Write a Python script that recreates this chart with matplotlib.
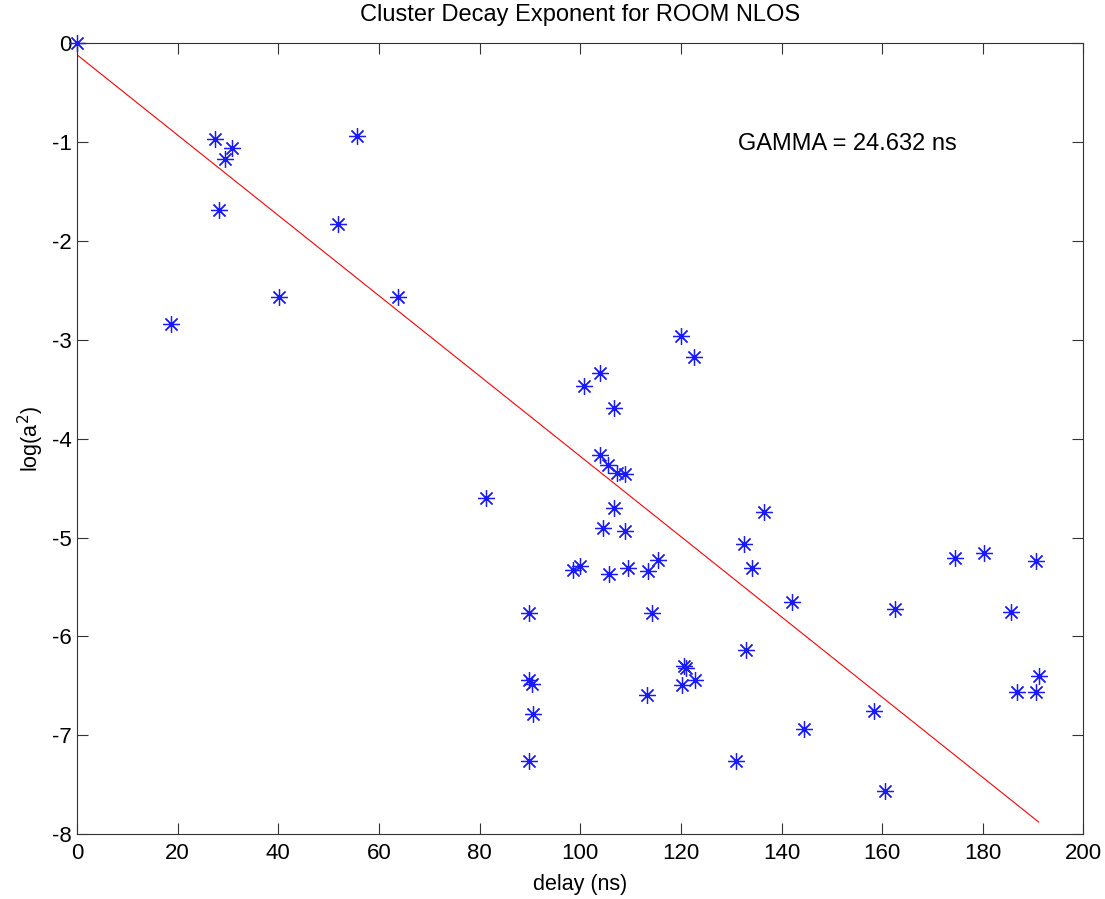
import numpy as np
import matplotlib.pyplot as plt

plt.rcParams['font.family'] = ['Liberation Sans', 'DejaVu Sans']
plt.rcParams['axes.unicode_minus'] = False

# cluster delay (ns) and normalized log power
delay = [0.0, 18.7, 27.4, 28.2, 29.5, 30.7, 40.1, 51.9, 55.6, 63.8,
         81.3, 89.9, 89.9, 90.5, 90.6, 89.9, 98.5, 100.0, 100.7, 103.9,
         103.9, 105.6, 104.5, 105.8, 106.7, 106.7, 107.4, 108.9, 108.8, 109.4,
         113.4, 113.3, 114.2, 115.5, 120.0, 122.6, 120.7, 121.0, 120.3, 122.8,
         130.9, 132.5, 132.9, 134.1, 136.6, 142.1, 144.5, 158.4, 160.6, 162.6,
         174.5, 180.2, 185.7, 186.8, 190.5, 190.5, 191.1]
log_a2 = [0.0, -2.84, -0.97, -1.69, -1.17, -1.06, -2.57, -1.83, -0.94, -2.57,
          -4.60, -5.76, -6.44, -6.48, -6.78, -7.26, -5.33, -5.29, -3.47, -3.34,
          -4.16, -4.27, -4.90, -5.37, -3.69, -4.70, -4.35, -4.36, -4.93, -5.31,
          -5.34, -6.59, -5.76, -5.23, -2.96, -3.17, -6.30, -6.32, -6.49, -6.44,
          -7.26, -5.06, -6.14, -5.31, -4.74, -5.65, -6.94, -6.75, -7.56, -5.72,
          -5.21, -5.16, -5.75, -6.56, -5.24, -6.56, -6.40]

gamma = 24.632
intercept = -0.118

fit_x = np.array([0.0, max(delay)])
fit_y = intercept - fit_x / gamma

fig = plt.figure(figsize=(11.05, 8.99), dpi=100)
ax = fig.add_axes([0.0697, 0.072, 0.9108, 0.880])

ax.plot(delay, log_a2, linestyle='none', marker=(8, 2, 0), markersize=12,
        markeredgewidth=0.9, color='#1a1aff', clip_on=False, zorder=3)
ax.plot(fit_x, fit_y, color='red', lw=0.8)

ax.text(131.3, -1.02, 'GAMMA = %.3f ns' % gamma, fontsize=17, va='center')

ax.set_xlim(0, 200)
ax.set_ylim(-8, 0)
ax.set_xticks(np.arange(0, 201, 20))
ax.set_yticks(np.arange(-8, 1, 1))
ax.tick_params(direction='in', length=8, top=True, right=True,
               labelsize=16, color='#333333')
ax.tick_params(axis='x', pad=6.5)
ax.tick_params(axis='y', pad=4)
for s in ax.spines.values():
    s.set_color('#333333')

ax.set_title('Cluster Decay Exponent for ROOM NLOS', fontsize=17, pad=16)
ax.set_xlabel('delay (ns)', fontsize=15.5, labelpad=7)
ax.set_ylabel('log(a$^2$)', fontsize=15.5, labelpad=4)

fig.savefig('out.png', dpi=100)
